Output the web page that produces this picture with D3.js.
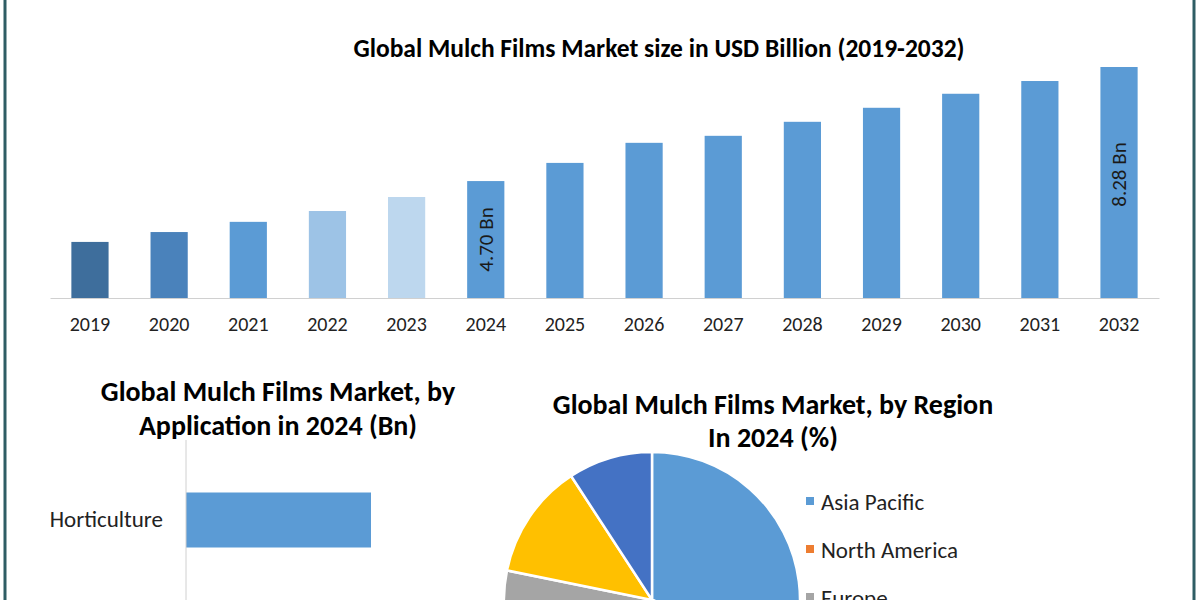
<!DOCTYPE html>
<html><head><meta charset="utf-8">
<script src="https://cdn.jsdelivr.net/npm/d3@7"></script>
<style>body{margin:0;background:#fff}text{font-family:Calibri,Carlito,Lato,sans-serif}</style>
</head><body><svg id="c" width="1200" height="600"></svg>
<script>
var years = ["2019","2020","2021","2022","2023","2024","2025","2026","2027","2028","2029","2030","2031","2032"];
var sizes = [2.79,3.10,3.42,3.76,4.20,4.70,5.27,5.90,6.12,6.56,7.00,7.44,7.84,8.28];
var barColors = ["#3e6e9c","#4a82bb","#5b9bd5","#9dc3e6","#bdd7ee","#5b9bd5","#5b9bd5","#5b9bd5","#5b9bd5","#5b9bd5","#5b9bd5","#5b9bd5","#5b9bd5","#5b9bd5"];
var barLabels = {"2024":"4.70 Bn","2032":"8.28 Bn"};
var apps = ["Horticulture","Agriculture"];
var appVals = [1.9,2.8];
var regions = ["Asia Pacific","North America","Europe","Middle East & Africa","South America"];
var regionPct = [46,22,10.2,12.6,9.2];
var regionColors = ["#5b9bd5","#ed7d31","#a5a5a5","#ffc000","#4472c4"];

var svg = d3.select("#c");
svg.append("rect").attr("x",5).attr("y",-5).attr("width",1189).attr("height",620)
  .attr("fill","none").attr("stroke","#2e5d64").attr("stroke-width",3);

// top bar chart
svg.append("text").attr("x",659).attr("y",57).attr("text-anchor","middle")
  .attr("font-size",25.5).attr("font-weight","bold").text("Global Mulch Films Market size in USD Billion (2019-2032)");
var x = d3.scaleBand().domain(years).range([50,1159]).paddingInner(0.53).paddingOuter(0.27);
var y = d3.scaleLinear().domain([1.03,8.28]).range([298,67]);
var g = svg.append("g");
g.selectAll("rect").data(years).join("rect")
  .attr("x",d=>x(d)).attr("width",x.bandwidth())
  .attr("y",(d,i)=>y(sizes[i])).attr("height",(d,i)=>298-y(sizes[i]))
  .attr("fill",(d,i)=>barColors[i]);
var ax = svg.append("g").attr("transform","translate(0,298)")
  .call(d3.axisBottom(x).tickSize(0).tickPadding(19));
ax.select(".domain").attr("stroke","#d0d0d0");
ax.selectAll("text").attr("font-size",20).attr("fill","#222").style("font-family","Calibri,Carlito,Lato,sans-serif");
g.selectAll("text.lbl").data(years.filter(d=>barLabels[d])).join("text")
  .attr("transform",d=>{var i=years.indexOf(d);return "translate("+(x(d)+x.bandwidth()/2+7)+","+(y(sizes[i])+(298-y(sizes[i]))/2+ (d=="2032"?-8:0))+") rotate(-90)";})
  .attr("text-anchor","middle").attr("font-size",21).attr("fill","#1a1a1a").text(d=>barLabels[d]);

// application horizontal bars
svg.append("text").attr("x",278).attr("y",401).attr("text-anchor","middle").attr("font-size",28).attr("font-weight","bold").text("Global Mulch Films Market, by");
svg.append("text").attr("x",278).attr("y",435).attr("text-anchor","middle").attr("font-size",28).attr("font-weight","bold").text("Application in 2024 (Bn)");
var hx = d3.scaleLinear().domain([0,1.9]).range([186,371]);
var hy = d3.scaleBand().domain(apps).range([465,685]).paddingInner(0.5).paddingOuter(0.25);
svg.selectAll("rect.h").data(apps).join("rect").attr("class","h")
  .attr("x",186).attr("y",d=>hy(d)).attr("height",hy.bandwidth())
  .attr("width",(d,i)=>hx(appVals[i])-186).attr("fill","#5b9bd5");
svg.append("line").attr("x1",186).attr("x2",186).attr("y1",440).attr("y2",600).attr("stroke","#d0d0d0");
svg.selectAll("text.h").data(apps).join("text").attr("class","h")
  .attr("x",163).attr("y",d=>hy(d)+hy.bandwidth()/2+7).attr("text-anchor","end")
  .attr("font-size",23).attr("fill","#222").text(d=>d);

// region pie
svg.append("text").attr("x",773).attr("y",414).attr("text-anchor","middle").attr("font-size",28).attr("font-weight","bold").text("Global Mulch Films Market, by Region");
svg.append("text").attr("x",773).attr("y",447).attr("text-anchor","middle").attr("font-size",28).attr("font-weight","bold").text("In 2024 (%)");
var pie = d3.pie().sort(null)(regionPct);
var arc = d3.arc().innerRadius(0).outerRadius(148);
svg.append("g").attr("transform","translate(652,600)").selectAll("path").data(pie).join("path")
  .attr("d",arc).attr("fill",(d,i)=>regionColors[i]).attr("stroke","#fff").attr("stroke-width",2.5);
var lg = svg.append("g").selectAll("g").data(regions).join("g")
  .attr("transform",(d,i)=>"translate(806,"+(502+i*48)+")");
lg.append("rect").attr("x",0).attr("y",-5).attr("width",8).attr("height",8).attr("fill",(d,i)=>regionColors[i]);
lg.append("text").attr("x",15).attr("y",8).attr("font-size",23).attr("fill","#222").text(d=>d);
</script></body></html>
